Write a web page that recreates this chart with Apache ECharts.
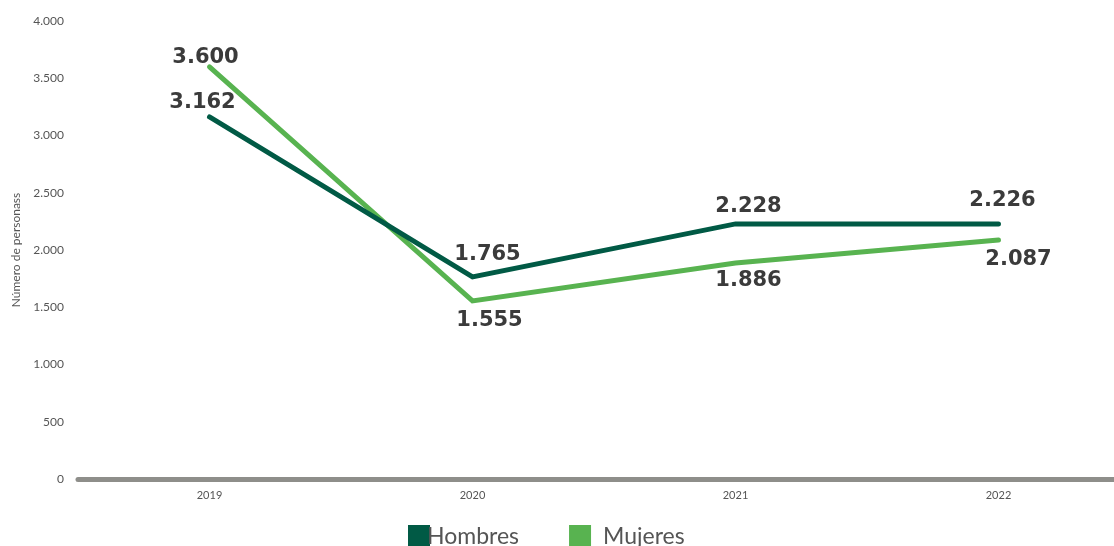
<!DOCTYPE html>
<html><head><meta charset="utf-8">
<script src="https://cdn.jsdelivr.net/npm/echarts@6/dist/echarts.min.js"></script>
<style>html,body{margin:0;padding:0;background:#fff}#c{width:1114px;height:546px}</style>
</head><body><div id="c"></div>
<script>
const categories = ['2019', '2020', '2021', '2022'];
const hombres = [3162, 1765, 2228, 2226];
const mujeres = [3600, 1555, 1886, 2087];
const yTicks = [0, 500, 1000, 1500, 2000, 2500, 3000, 3500, 4000];

const fmt = v => v >= 1000 ? String(v).replace(/(\d)(?=(\d{3})$)/, '$1.') : String(v);

const hPos = [['top', [-7, 1]], ['top', [15, -7]], ['top', [13, -2]], ['top', [4, -8]]];
const mPos = [['top', [-4, 6]], ['bottom', [17, 4]], ['bottom', [13, 2]], ['bottom', [20, 4]]];

const lbl = {fontFamily: 'DejaVu Sans', fontWeight: 'bold', fontSize: 21, color: '#3b3b3b', formatter: p => fmt(p.value)};

const chart = echarts.init(document.getElementById('c'));
chart.setOption({
  animation: false,
  grid: {left: 78, top: 21, bottom: 67, width: 1052, containLabel: false, outerBoundsMode: 'none'},
  legend: {
    left: 403, top: 520, itemGap: 50, itemWidth: 22, itemHeight: 24,
    icon: 'rect',
    textStyle: {fontFamily: 'Lato', fontSize: 23, color: '#555', padding: [0, 0, 0, -8]},
    data: [
      {name: 'Hombres', itemStyle: {color: '#015a45', opacity: 1}},
      {name: 'Mujeres', itemStyle: {color: '#58b350', opacity: 1},
        textStyle: {padding: [10, 0, 0, 7]}}
    ]
  },
  xAxis: {
    type: 'category', data: categories, boundaryGap: true,
    axisLine: {lineStyle: {color: '#8e8e8a', width: 5}},
    axisTick: {show: false},
    axisLabel: {fontFamily: 'Lato', fontSize: 11, color: '#555', margin: 11}
  },
  yAxis: {
    type: 'value', min: 0, max: 4000, interval: 500,
    name: 'Número de personass', nameLocation: 'middle', nameGap: 56, nameRotate: 90,
    nameTextStyle: {fontFamily: 'Lato', fontSize: 12, color: '#555'},
    axisLine: {show: false}, axisTick: {show: false}, splitLine: {show: false},
    axisLabel: {fontFamily: 'Lato', fontSize: 12, color: '#555', margin: 14,
      formatter: v => fmt(v)}
  },
  series: [
    {
      name: 'Hombres', type: 'line', data: hombres.map((v, i) => ({value: v,
        label: {position: hPos[i][0], offset: hPos[i][1]}})),
      symbol: 'circle', symbolSize: 0, showSymbol: true, color: '#015a45',
      lineStyle: {width: 5, color: '#015a45', cap: 'round', join: 'miter'},
      label: Object.assign({show: true}, lbl), z: 3
    },
    {
      name: 'Mujeres', type: 'line', data: mujeres.map((v, i) => ({value: v,
        label: {position: mPos[i][0], offset: mPos[i][1]}})),
      symbol: 'circle', symbolSize: 0, showSymbol: true, color: '#58b350',
      lineStyle: {width: 5, color: '#58b350', cap: 'round', join: 'miter'},
      label: Object.assign({show: true}, lbl), z: 2
    }
  ]
});
</script></body></html>
